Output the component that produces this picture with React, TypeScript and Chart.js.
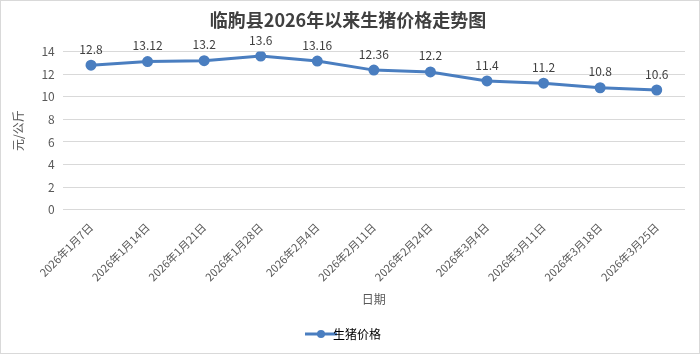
import React, { useEffect, useRef } from "react";
import { Chart, registerables } from "chart.js";

Chart.register(...registerables);

const categories = [
  "2026年1月7日", "2026年1月14日", "2026年1月21日", "2026年1月28日", "2026年2月4日",
  "2026年2月11日", "2026年2月24日", "2026年3月4日", "2026年3月11日", "2026年3月18日", "2026年3月25日",
];
const prices = [12.8, 13.12, 13.2, 13.6, 13.16, 12.36, 12.2, 11.4, 11.2, 10.8, 10.6];
const seriesName = "生猪价格";
const titleText = "临朐县2026年以来生猪价格走势图";
const yTitle = "元/公斤";
const xTitle = "日期";

const FONT = "'Noto Sans CJK SC', 'Microsoft YaHei', sans-serif";
const LINE = "#4A7EC0";
const TEXT = "#595959";

const dataLabels = {
  id: "dataLabels",
  afterDatasetsDraw(chart: any) {
    const ctx = chart.ctx;
    const meta = chart.getDatasetMeta(0);
    ctx.save();
    ctx.font = `12px ${FONT}`;
    ctx.fillStyle = "#404040";
    ctx.textAlign = "center";
    ctx.textBaseline = "bottom";
    meta.data.forEach((pt: any, i: number) => {
      ctx.fillText(String(prices[i]), pt.x, pt.y - 10);
    });
    ctx.restore();
  },
};

function makeLegendIcon() {
  const c = document.createElement("canvas");
  c.width = 32;
  c.height = 10;
  const g = c.getContext("2d")!;
  g.strokeStyle = LINE;
  g.lineWidth = 3;
  g.beginPath();
  g.moveTo(0, 5);
  g.lineTo(32, 5);
  g.stroke();
  g.fillStyle = LINE;
  g.beginPath();
  g.arc(16, 5, 4, 0, Math.PI * 2);
  g.fill();
  return c;
}

export default function App() {
  const ref = useRef<HTMLCanvasElement>(null);
  useEffect(() => {
    const icon = makeLegendIcon();
    const chart = new Chart(ref.current!, {
      type: "line",
      data: {
        labels: categories,
        datasets: [
          {
            label: seriesName,
            data: prices,
            borderColor: LINE,
            backgroundColor: LINE,
            borderWidth: 3,
            pointRadius: 4,
            pointStyle: "circle",
            pointBackgroundColor: LINE,
            pointBorderColor: LINE,
            tension: 0,
          },
        ],
      },
      options: {
        animation: false,
        responsive: false,
        layout: { padding: { top: 8, left: 10, right: 14, bottom: 3 } },
        plugins: {
          title: {
            display: true,
            text: titleText,
            color: "#404040",
            font: { family: FONT, size: 18, weight: "bold" },
            padding: { top: 0, bottom: 21 },
          },
          legend: {
            position: "bottom",
            labels: {
              color: TEXT,
              font: { family: FONT, size: 12 },
              usePointStyle: true,
              generateLabels: () => [
                {
                  text: seriesName,
                  pointStyle: icon as any,
                  fillStyle: LINE,
                  strokeStyle: LINE,
                  lineWidth: 0,
                  datasetIndex: 0,
                } as any,
              ],
            },
          },
          tooltip: { enabled: false },
        },
        scales: {
          x: {
            offset: true,
            grid: { display: false },
            border: { display: false },
            ticks: {
              color: TEXT,
              font: { family: FONT, size: 11 },
              minRotation: 45,
              maxRotation: 45,
              autoSkip: false,
            },
            title: {
              display: true,
              text: xTitle,
              color: TEXT,
              font: { family: FONT, size: 12 },
              padding: { top: 6, bottom: 11 },
            },
          },
          y: {
            min: 0,
            max: 14,
            ticks: {
              stepSize: 2,
              color: TEXT,
              font: { family: FONT, size: 12 },
              padding: 8,
            },
            grid: { color: "#D9D9D9", drawTicks: false },
            border: { display: false },
            title: {
              display: true,
              text: yTitle,
              color: TEXT,
              font: { family: FONT, size: 12 },
              padding: { top: 0, bottom: 8 },
            },
          },
        },
      },
      plugins: [dataLabels],
    });
    return () => chart.destroy();
  }, []);
  return (
    <div
      style={{
        position: "fixed",
        left: 0,
        top: 0,
        width: 700,
        height: 354,
        boxSizing: "border-box",
        border: "1px solid #D9D9D9",
        background: "#fff",
      }}
    >
      <canvas ref={ref} width={698} height={352} style={{ display: "block" }} />
    </div>
  );
}
